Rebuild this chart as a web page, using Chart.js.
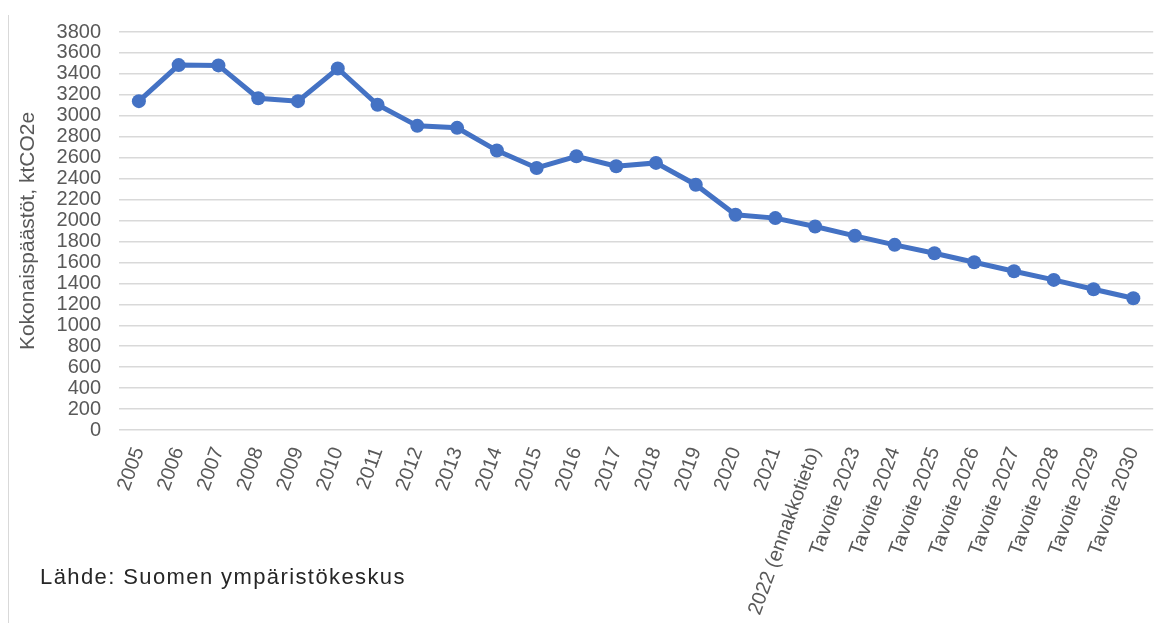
<!DOCTYPE html>
<html>
<head>
<meta charset="utf-8">
<script src="https://cdn.jsdelivr.net/npm/chart.js@4"></script>
<style>
  html, body { margin: 0; padding: 0; background: #fff; }
  #wrap { position: relative; width: 1162px; height: 623px; }
  #frame { position: absolute; left: 8px; top: 15px; bottom: 0; border-left: 1px solid #d9d9d9; }
  #source { position: absolute; left: 40px; top: 564px; font: 22px "Liberation Sans", Arial, sans-serif; color: #262626; letter-spacing: 1.4px; }
</style>
</head>
<body>
<div id="wrap">
  <canvas id="emissionsChart" width="1162" height="623"></canvas>
  <div id="frame"></div>
  <div id="source">Lähde: Suomen ympäristökeskus</div>
</div>
<script>
// Years / targets
const years = [
    '2005', '2006', '2007', '2008', '2009', '2010', '2011', '2012', '2013',
    '2014', '2015', '2016', '2017', '2018', '2019', '2020', '2021',
    '2022 (ennakkotieto)', 'Tavoite 2023', 'Tavoite 2024', 'Tavoite 2025',
    'Tavoite 2026', 'Tavoite 2027', 'Tavoite 2028', 'Tavoite 2029', 'Tavoite 2030'
];

// Total emissions, ktCO2e
const emissions = [
    3140, 3484, 3481, 3168, 3140, 3452, 3105, 2904, 2885,
    2668, 2502, 2613, 2518, 2550, 2342, 2055, 2023,
    1943, 1854, 1768, 1688, 1602, 1516, 1433, 1344, 1258
];

const yMin = 0;
const yMax = 3800;
const yStep = 200;

const blue = '#4472C4';
const grey = '#595959';

const data = {
    labels: years,
    datasets: [{
        label: 'Kokonaispäästöt',
        data: emissions,
        borderColor: blue,
        backgroundColor: blue,
        borderWidth: 5,
        pointRadius: 7,
        pointBackgroundColor: blue,
        pointBorderColor: blue,
        pointBorderWidth: 0,
        tension: 0
    }]
};

const config = {
    type: 'line',
    data,
    options: {
        responsive: false,
        animation: false,
        layout: { padding: { left: 16, top: 32, right: 4, bottom: 0 } },
        plugins: { legend: { display: false }, tooltip: { enabled: false } },
        scales: {
            x: {
                type: 'category',
                offset: true,
                grid: { display: false },
                border: { display: false },
                ticks: {
                    color: grey,
                    font: { family: 'Liberation Sans', size: 20 },
                    minRotation: 70,
                    maxRotation: 70,
                    autoSkip: false,
                    padding: 6
                },
                afterFit: s => { s.height = 193; }
            },
            y: {
                min: yMin,
                max: yMax,
                grid: { color: '#d9d9d9', lineWidth: 1.5, drawTicks: false },
                border: { display: false },
                ticks: {
                    stepSize: yStep,
                    autoSkip: false,
                    color: grey,
                    font: { family: 'Liberation Sans', size: 20, lineHeight: 1 },
                    padding: 18,
                    callback: v => String(v)
                },
                title: {
                    display: true,
                    text: 'Kokonaispäästöt, ktCO2e',
                    color: grey,
                    font: { family: 'Liberation Sans', size: 21 },
                    padding: { top: 0, bottom: 0 }
                },
                afterFit: s => { s.width = 103; }
            }
        }
    }
};

const myChart = new Chart(document.getElementById('emissionsChart'), config);
</script>
</body>
</html>
